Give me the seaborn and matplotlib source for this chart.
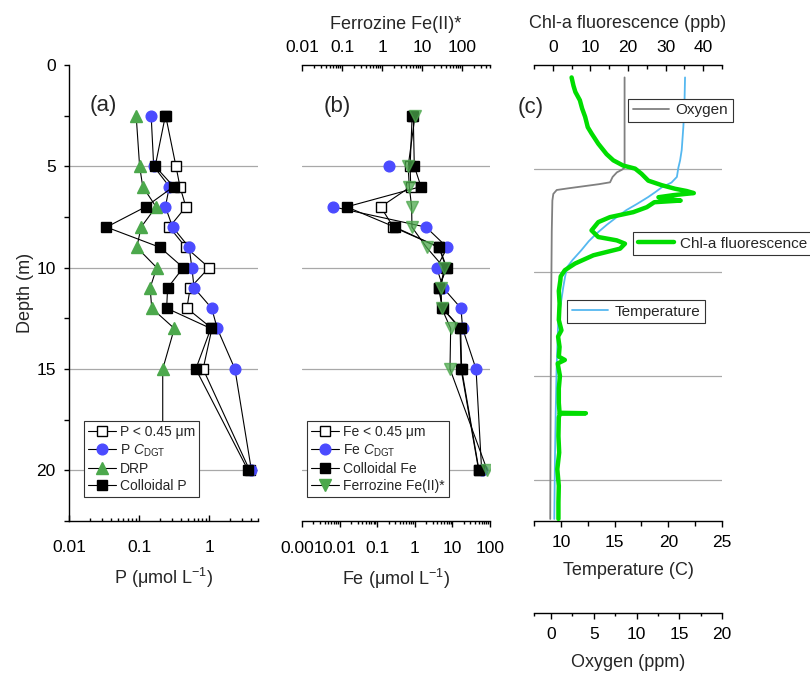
import numpy as np
import pandas as pd
import matplotlib
matplotlib.use("Agg")
import matplotlib.pyplot as plt
import seaborn as sns
from matplotlib.lines import Line2D
from matplotlib.ticker import (LogLocator, FuncFormatter, MultipleLocator,
                               FixedLocator, NullFormatter)

# ---------------- data ----------------
depths = [2.5, 5, 6, 7, 8, 9, 10, 11, 12, 13, 15, 20]

p_filt = [0.24, 0.337, 0.384, 0.467, 0.271, 0.467, 1.0, 0.537, 0.483, 1.1, 0.822, 3.8]
p_cdgt = [0.149, 0.162, 0.271, 0.238, 0.302, 0.52, 0.568, 0.612, 1.09, 1.31, 2.34, 4.03]
p_drp = [0.091, 0.102, 0.113, 0.175, 0.107, 0.093, 0.179, 0.144, 0.152, 0.319, 0.218, 0.218]
p_coll = [0.238, 0.17, 0.312, 0.124, 0.0343, 0.2, 0.428, 0.256, 0.248, 1.06, 0.647, 3.61]

fe_filt = [0.85, 0.75, 0.78, 0.124, 0.27, 4.4, 6.8, 4.3, 5.4, 16.0, 17.0, 50]
fe_cdgt = [np.nan, 0.206, np.nan, 0.0068, 1.99, 7.3, 3.82, 5.7, 16.9, 18.7, 42.5, 60]
fe_coll = [0.91, 0.97, 1.46, 0.0154, 0.297, 4.49, 7.05, 4.4, 5.5, 16.6, 17.6, 51]
fe_ferro = [6.7, 4.5, 4.8, 5.5, 5.6, 13, 35.5, 29.9, 31, 52, 50, 427]

chl_depth = [0.6, 1.0, 1.3, 1.7, 2.1, 2.5, 3.0, 3.3, 3.8, 4.3, 4.6, 4.85, 5.0, 5.25,
             5.58, 5.8, 5.97, 6.08, 6.18, 6.28, 6.38, 6.46, 6.54, 6.62, 6.86, 7.1,
             7.34, 7.58, 7.98, 8.3, 8.46, 8.62, 8.86, 9.18, 9.58, 9.9, 10.2, 10.4,
             10.9, 11.5, 12.3, 12.8, 13.1, 13.6, 14.07, 14.23, 14.4, 15.0, 15.6,
             16.3, 16.78, 16.8, 16.82, 17.0, 17.9, 18.7, 19.5, 20.3, 21.1, 21.9]
chl_val = [5.0, 5.5, 6.0, 7.2, 7.8, 8.6, 9.3, 10.3, 12.1, 14.3, 16.1, 18.7, 21.9, 23.6,
           25.4, 29.0, 32.5, 35.6, 37.5, 32.0, 28.1, 30.5, 34.0, 27.0, 25.0, 21.4,
           15.2, 12.1, 10.3, 12.1, 17.0, 19.2, 17.9, 10.8, 5.9, 3.2, 2.1, 2.0,
           1.6, 1.8, 1.6, 2.3, 1.4, 1.8, 1.6, 3.2, 1.3, 1.9, 1.6,
           1.6, 1.8, 8.8, 1.9, 1.6, 1.5, 1.7, 1.2, 1.6, 1.5, 1.5]

temp_depth = [0.6, 2.0, 3.0, 4.1, 4.6, 4.95, 5.4, 5.67, 5.9, 6.13, 6.38, 6.7, 7.0,
              7.34, 7.7, 8.14, 8.5, 8.94, 9.4, 9.74, 10.2, 10.7, 11.5, 12.3, 13.5,
              14.7, 16.8, 19.0, 21.9]
temp_val = [21.56, 21.5, 21.4, 21.25, 21.1, 20.94, 20.8, 20.3, 19.4, 18.8, 18.1, 17.1,
            16.1, 15.2, 14.3, 13.3, 12.6, 11.9, 11.1, 10.6, 10.4, 10.23, 10.0, 9.76,
            9.68, 9.6, 9.52, 9.45, 9.39]

oxy_depth = [0.6, 4.95, 5.05, 5.18, 5.4, 5.66, 5.75, 5.85, 5.95, 6.03, 6.22, 6.54,
             8.0, 12.0, 16.0, 21.9]
oxy_val = [8.6, 8.6, 8.3, 7.7, 7.2, 6.9, 5.6, 3.8, 2.0, 0.66, 0.26, 0.15,
           0.08, 0.0, -0.05, -0.1]

grid_depths = [5, 10, 15, 20]

# ---------------- style ----------------
sns.set_theme(style="white")
plt.rcParams["font.family"] = ["Liberation Sans", "DejaVu Sans"]
plt.rcParams["mathtext.fontset"] = "custom"
plt.rcParams["mathtext.rm"] = "Liberation Sans"
plt.rcParams["mathtext.it"] = "Liberation Sans:italic"
plt.rcParams["mathtext.bf"] = "Liberation Sans:bold"
plt.rcParams["axes.edgecolor"] = "black"
plt.rcParams["axes.linewidth"] = 1.0
plt.rcParams["xtick.color"] = "black"
plt.rcParams["ytick.color"] = "black"

BLUE = "#4b4bff"
GREEN = "#4ca84c"
CHL = "#00dd00"
TEMP = "#55b8f0"
OXY = "#808080"
GRID = "#a8a8a8"
TICK_FS = 12.5
LAB_FS = 13

W, H = 810, 675
fig = plt.figure(figsize=(W / 100, H / 100), dpi=100)


def rect(x0, x1, y0, y1):
    return [x0 / W, 1 - y1 / H, (x1 - x0) / W, (y1 - y0) / H]


def draw(ax, x, y, marker, fc, ec, ms, z):
    x = np.asarray(x, float)
    y = np.asarray(y, float)
    seg = np.cumsum(np.isnan(x))
    df = pd.DataFrame({"x": x, "y": y, "seg": seg}).dropna()
    sns.lineplot(data=df, x="x", y="y", units="seg", estimator=None, sort=False,
                 ax=ax, color="black", linewidth=0.8, marker=marker, markersize=ms,
                 markerfacecolor=fc, markeredgecolor=ec, markeredgewidth=1.0,
                 legend=False, zorder=z)
    ax.set_xlabel("")
    ax.set_ylabel("")


def profile(ax, x, y, color, lw, z):
    df = pd.DataFrame({"x": x, "y": y})
    sns.lineplot(data=df, x="x", y="y", estimator=None, sort=False, ax=ax,
                 color=color, linewidth=lw, legend=False, zorder=z)
    ax.set_xlabel("")
    ax.set_ylabel("")


fmt_g = FuncFormatter(lambda v, p: f"{v:g}")


def log_ticks(axis):
    axis.set_major_locator(LogLocator(base=10, numticks=20))
    axis.set_minor_locator(LogLocator(base=10, subs=np.arange(2, 10), numticks=20))
    axis.set_major_formatter(fmt_g)
    axis.set_minor_formatter(NullFormatter())


def hide_spines(ax, keep):
    for s in ["left", "right", "top", "bottom"]:
        ax.spines[s].set_visible(s in keep)


def style_legend(leg):
    leg.get_frame().set_edgecolor("#333333")
    leg.get_frame().set_linewidth(0.8)
    leg.get_frame().set_facecolor("white")
    leg.get_frame().set_alpha(1)
    leg.set_zorder(20)


# ---------------- panel (a) ----------------
ax_a = fig.add_axes(rect(69, 258, 65, 521))
for d in grid_depths:
    ax_a.axhline(d, color=GRID, lw=0.9, zorder=0.5)
draw(ax_a, p_filt, depths, "s", "white", "black", 6.5, 3)
draw(ax_a, p_cdgt, depths, "o", BLUE, BLUE, 7.7, 4)
draw(ax_a, p_drp, depths, "^", GREEN, GREEN, 8.0, 5)
draw(ax_a, p_coll, depths, "s", "black", "black", 6.5, 6)
ax_a.set_xscale("log")
ax_a.set_xlim(0.01, 5)
ax_a.set_ylim(22.5, 0)
log_ticks(ax_a.xaxis)
ax_a.yaxis.set_major_locator(MultipleLocator(5))
ax_a.yaxis.set_minor_locator(MultipleLocator(2.5))
ax_a.yaxis.set_major_formatter(fmt_g)
hide_spines(ax_a, ["left", "bottom"])
ax_a.tick_params(axis="x", which="major", direction="in", length=4, width=1,
                 pad=13.5, labelsize=TICK_FS, bottom=True, top=False)
ax_a.tick_params(axis="x", which="minor", direction="in", length=2.3, width=1,
                 bottom=True, top=False)
ax_a.tick_params(axis="y", which="both", direction="out", length=3.5, width=1,
                 pad=6, labelsize=TICK_FS, left=True, right=False)
ax_a.set_xlabel("P (μmol L$^{-1}$)", fontsize=LAB_FS, labelpad=8)
ax_a.set_ylabel("Depth (m)", fontsize=LAB_FS, labelpad=2)
ax_a.text(0.18, 0.912, "(a)", transform=ax_a.transAxes, fontsize=16,
          ha="center", va="center")
h_a = [
    Line2D([], [], color="black", lw=0.8, marker="s", ms=6.5, mfc="white", mec="black",
           label="P < 0.45 μm"),
    Line2D([], [], color="black", lw=0.8, marker="o", ms=7.7, mfc=BLUE, mec=BLUE,
           label="P $\\mathit{C}_{\\mathrm{DGT}}$"),
    Line2D([], [], color="black", lw=0.8, marker="^", ms=8, mfc=GREEN, mec=GREEN,
           label="DRP"),
    Line2D([], [], color="black", lw=0.8, marker="s", ms=6.5, mfc="black", mec="black",
           label="Colloidal P"),
]
leg = ax_a.legend(handles=h_a, loc="lower left", bbox_to_anchor=(0.079, 0.053),
                  borderaxespad=0, frameon=True, fancybox=False, fontsize=10,
                  handlelength=2.0, handletextpad=0.3, labelspacing=0.22,
                  borderpad=0.3)
style_legend(leg)

# ---------------- panel (b) ----------------
ax_b = fig.add_axes(rect(302, 490, 65, 521))
for d in grid_depths:
    ax_b.axhline(d, color=GRID, lw=0.9, zorder=0.5)
draw(ax_b, fe_filt, depths, "s", "white", "black", 6.5, 3)
draw(ax_b, fe_cdgt, depths, "o", BLUE, BLUE, 7.7, 4)
draw(ax_b, fe_coll, depths, "s", "black", "black", 6.5, 6)
ax_b.set_xscale("log")
ax_b.set_xlim(0.001, 100)
ax_b.set_ylim(22.5, 0)
log_ticks(ax_b.xaxis)
hide_spines(ax_b, ["bottom"])
ax_b.tick_params(axis="x", which="major", direction="out", length=4, width=1,
                 pad=10.5, labelsize=TICK_FS, bottom=True, top=False)
ax_b.tick_params(axis="x", which="minor", direction="out", length=2.3, width=1,
                 bottom=True, top=False)
ax_b.tick_params(axis="y", which="both", left=False, right=False,
                 labelleft=False)
ax_b.set_xlabel("Fe (μmol L$^{-1}$)", fontsize=LAB_FS, labelpad=8)

ax_b2 = ax_b.twiny()
draw(ax_b2, fe_ferro, depths, "v", (0.30, 0.66, 0.30, 0.75), (0.30, 0.66, 0.30, 0.75), 8.5, 7)
ax_b2.set_xscale("log")
ax_b2.set_xlim(0.01, 500)
ax_b2.set_ylim(22.5, 0)
log_ticks(ax_b2.xaxis)
hide_spines(ax_b2, ["top"])
ax_b2.xaxis.tick_top()
ax_b2.xaxis.set_label_position("top")
ax_b2.tick_params(axis="x", which="major", direction="in", length=4, width=1,
                  pad=7, labelsize=TICK_FS, top=True, bottom=False)
ax_b2.tick_params(axis="x", which="minor", direction="in", length=2.3, width=1,
                  top=True, bottom=False)
ax_b2.tick_params(axis="y", which="both", left=False, right=False,
                  labelleft=False, labelright=False)
ax_b2.set_xlabel("Ferrozine Fe(II)*", fontsize=LAB_FS, labelpad=8)
ax_b2.text(0.19, 0.91, "(b)", transform=ax_b2.transAxes, fontsize=16,
           ha="center", va="center")
h_b = [
    Line2D([], [], color="black", lw=0.8, marker="s", ms=6.5, mfc="white", mec="black",
           label="Fe < 0.45 μm"),
    Line2D([], [], color="black", lw=0.8, marker="o", ms=7.7, mfc=BLUE, mec=BLUE,
           label="Fe $\\mathit{C}_{\\mathrm{DGT}}$"),
    Line2D([], [], color="black", lw=0.8, marker="s", ms=6.5, mfc="black", mec="black",
           label="Colloidal Fe"),
    Line2D([], [], color="black", lw=0.8, marker="v", ms=8.5, mfc=GREEN, mec=GREEN,
           label="Ferrozine Fe(II)*"),
]
leg = ax_b2.legend(handles=h_b, loc="lower left", bbox_to_anchor=(0.027, 0.053),
                   borderaxespad=0, frameon=True, fancybox=False, fontsize=10,
                   handlelength=2.0, handletextpad=0.3, labelspacing=0.22,
                   borderpad=0.3)
style_legend(leg)

# ---------------- panel (c) ----------------
ax_c = fig.add_axes(rect(534, 722, 65, 521))
for d in grid_depths:
    ax_c.axhline(d, color=GRID, lw=0.9, zorder=0.5)
profile(ax_c, temp_val, temp_depth, TEMP, 1.3, 3)
ax_c.set_xlim(7.5, 25)
ax_c.set_ylim(22, 0)
ax_c.xaxis.set_major_locator(MultipleLocator(5))
ax_c.xaxis.set_minor_locator(MultipleLocator(2.5))
ax_c.xaxis.set_major_formatter(fmt_g)
hide_spines(ax_c, ["bottom"])
ax_c.tick_params(axis="x", which="major", direction="out", length=4, width=1,
                 pad=6, labelsize=TICK_FS, bottom=True, top=False)
ax_c.tick_params(axis="x", which="minor", direction="out", length=3.5, width=1,
                 bottom=True, top=False)
ax_c.tick_params(axis="y", which="both", left=False, right=False, labelleft=False)
ax_c.set_xlabel("Temperature (C)", fontsize=LAB_FS, labelpad=9)

ax_ox = ax_c.twiny()
profile(ax_ox, oxy_val, oxy_depth, OXY, 1.3, 3)
ax_ox.set_xlim(-2, 20)
ax_ox.set_ylim(22, 0)
ax_ox.xaxis.tick_bottom()
ax_ox.xaxis.set_label_position("bottom")
hide_spines(ax_ox, ["bottom"])
ax_ox.spines["bottom"].set_position(("outward", 66.2))
ax_ox.xaxis.set_major_locator(MultipleLocator(5))
ax_ox.xaxis.set_minor_locator(FixedLocator([-2, 2.5, 7.5, 12.5, 17.5]))
ax_ox.xaxis.set_major_formatter(fmt_g)
ax_ox.tick_params(axis="x", which="major", direction="out", length=4, width=1,
                  pad=6, labelsize=TICK_FS, bottom=True, top=False)
ax_ox.tick_params(axis="x", which="minor", direction="out", length=2.5, width=1,
                  bottom=True, top=False)
ax_ox.tick_params(axis="y", which="both", left=False, right=False,
                  labelleft=False, labelright=False)
ax_ox.set_xlabel("Oxygen (ppm)", fontsize=LAB_FS, labelpad=9)

ax_chl = ax_c.twiny()
profile(ax_chl, chl_val, chl_depth, CHL, 3.2, 4)
ax_chl.set_xlim(-5, 45)
ax_chl.set_ylim(22, 0)
ax_chl.xaxis.tick_top()
ax_chl.xaxis.set_label_position("top")
hide_spines(ax_chl, ["top"])
ax_chl.xaxis.set_major_locator(MultipleLocator(10))
ax_chl.xaxis.set_minor_locator(MultipleLocator(5))
ax_chl.xaxis.set_major_formatter(fmt_g)
ax_chl.tick_params(axis="x", which="major", direction="in", length=4, width=1,
                   pad=7.5, labelsize=TICK_FS, top=True, bottom=False)
ax_chl.tick_params(axis="x", which="minor", direction="in", length=3, width=1,
                   top=True, bottom=False)
ax_chl.tick_params(axis="y", which="both", left=False, right=False,
                   labelleft=False, labelright=False)
ax_chl.set_xlabel("Chl-a fluorescence (ppb)", fontsize=LAB_FS, labelpad=8)
ax_chl.text(-0.016, 0.907, "(c)", transform=ax_chl.transAxes, fontsize=16,
            ha="center", va="center")

leg_kw = dict(loc="lower left", borderaxespad=0, frameon=True, fancybox=False,
              fontsize=11, handlelength=2.4, handletextpad=0.4, borderpad=0.3)
l1 = ax_chl.legend(handles=[Line2D([], [], color=OXY, lw=1.3, label="Oxygen")],
                   bbox_to_anchor=(0.50, 0.875), **leg_kw)
style_legend(l1)
ax_chl.add_artist(l1)
l2 = ax_chl.legend(handles=[Line2D([], [], color=CHL, lw=3.2, label="Chl-a fluorescence")],
                   bbox_to_anchor=(0.527, 0.583), **leg_kw)
style_legend(l2)
ax_chl.add_artist(l2)
l3 = ax_chl.legend(handles=[Line2D([], [], color=TEMP, lw=1.3, label="Temperature")],
                   bbox_to_anchor=(0.176, 0.434), **leg_kw)
style_legend(l3)

fig.savefig("out.png", dpi=100)
